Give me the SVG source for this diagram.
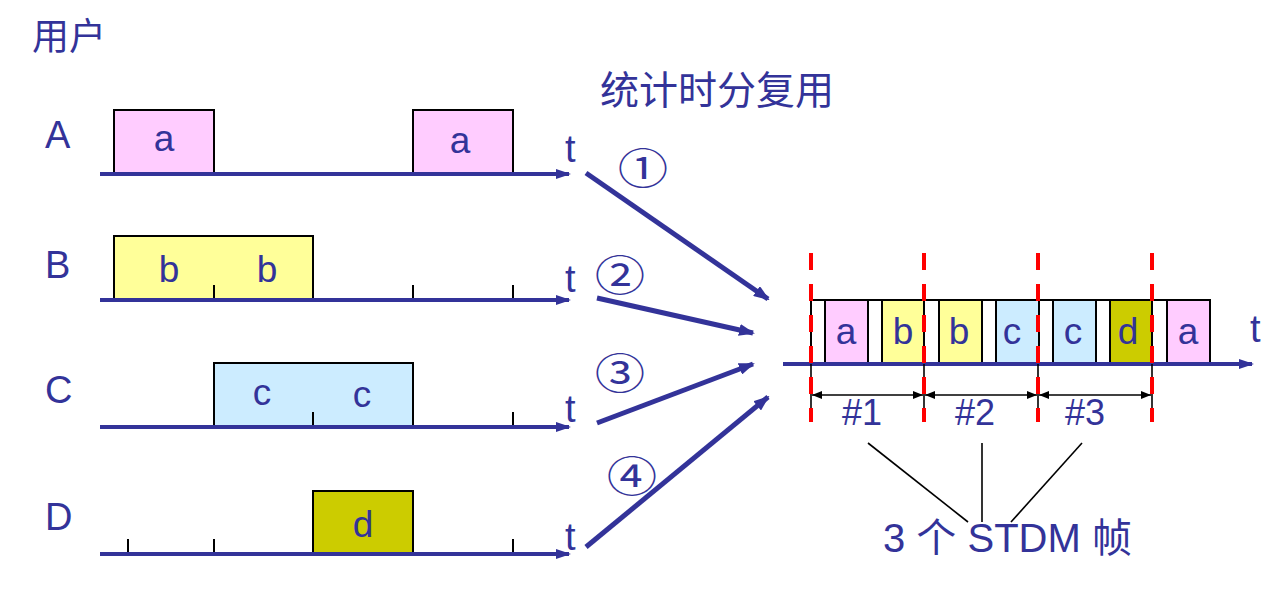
<svg xmlns="http://www.w3.org/2000/svg" width="1288" height="598" viewBox="0 0 1288 598">
<style>
text{font-family:"Liberation Sans","Noto Sans CJK SC",sans-serif;fill:#333399}
.lbl{font-size:38px}
.in{font-size:37px;text-anchor:middle}
.t{font-size:38px}
.cjk{font-family:"Noto Sans CJK SC",sans-serif}
.circ{font-family:"Noto Sans CJK SC",sans-serif;font-size:42px;text-anchor:middle}
.axis{stroke:#333399;stroke-width:4;fill:none}
.tick{stroke:#000;stroke-width:2}
.box{stroke:#000;stroke-width:2}
.pk{fill:#FFCCFF}.yl{fill:#FFFF99}.bl{fill:#CCECFF}.ol{fill:#CCCC00}.wh{fill:#fff}
.big{stroke:#333399;stroke-width:5;fill:none}
.red{stroke:#FF0000;stroke-width:4;stroke-dasharray:17 14}
.blk{stroke:#000;stroke-width:1.6;fill:none}
</style>
<defs>
<marker id="ah" viewBox="0 0 15 10" refX="13" refY="5" markerUnits="userSpaceOnUse" markerWidth="15" markerHeight="10" orient="auto"><path d="M0,0L15,5L0,10z" fill="#333399"/></marker>
<marker id="bh" viewBox="0 0 16 12" refX="14" refY="6" markerUnits="userSpaceOnUse" markerWidth="16" markerHeight="12" orient="auto"><path d="M0,0L16,6L0,12z" fill="#333399"/></marker>
<marker id="kh" viewBox="0 0 10 8" refX="10" refY="4" markerUnits="userSpaceOnUse" markerWidth="10" markerHeight="8" orient="auto-start-reverse"><path d="M0,0L10,4L0,8z" fill="#000"/></marker>
</defs>
<rect width="1288" height="598" fill="#fff"/>
<text x="32" y="50" class="cjk" font-size="37">用户</text>
<text x="600" y="104" class="cjk" font-size="39">统计时分复用</text>

<g id="userA">
<rect x="114" y="110" width="100" height="64" class="box pk"/>
<rect x="413" y="110" width="100" height="64" class="box pk"/>
<line x1="100" y1="174" x2="569" y2="174" class="axis" marker-end="url(#ah)"/>
<text x="45" y="148" class="lbl">A</text>
<text x="164" y="151" class="in">a</text>
<text x="460" y="153" class="in">a</text>
<text x="565" y="162" class="t">t</text>
</g>
<g id="userB">
<rect x="114" y="236" width="199" height="64" class="box yl"/>
<line x1="214" y1="285" x2="214" y2="300" class="tick"/>
<line x1="413" y1="285" x2="413" y2="300" class="tick"/>
<line x1="513" y1="285" x2="513" y2="300" class="tick"/>
<line x1="100" y1="300" x2="569" y2="300" class="axis" marker-end="url(#ah)"/>
<text x="45" y="278" class="lbl">B</text>
<text x="169" y="282" class="in">b</text>
<text x="267" y="282" class="in">b</text>
<text x="565" y="292" class="t">t</text>
</g>
<g id="userC">
<rect x="214" y="363" width="199" height="64" class="box bl"/>
<line x1="313" y1="412" x2="313" y2="427" class="tick"/>
<line x1="513" y1="412" x2="513" y2="427" class="tick"/>
<line x1="100" y1="427" x2="569" y2="427" class="axis" marker-end="url(#ah)"/>
<text x="45" y="403" class="lbl">C</text>
<text x="262" y="405" class="in">c</text>
<text x="362" y="407" class="in">c</text>
<text x="565" y="422" class="t">t</text>
</g>
<g id="userD">
<rect x="313" y="491" width="100" height="63" class="box ol"/>
<line x1="128" y1="539" x2="128" y2="554" class="tick"/>
<line x1="214" y1="539" x2="214" y2="554" class="tick"/>
<line x1="513" y1="539" x2="513" y2="554" class="tick"/>
<line x1="100" y1="554" x2="569" y2="554" class="axis" marker-end="url(#ah)"/>
<text x="45" y="530" class="lbl">D</text>
<text x="363" y="537" class="in">d</text>
<text x="565" y="550" class="t">t</text>
</g>

<g id="connectors">
<line x1="586" y1="173" x2="768" y2="299" class="big" marker-end="url(#bh)"/>
<line x1="597" y1="298" x2="753" y2="333" class="big" marker-end="url(#bh)"/>
<line x1="597" y1="423" x2="753" y2="364" class="big" marker-end="url(#bh)"/>
<line x1="586" y1="547" x2="768" y2="397" class="big" marker-end="url(#bh)"/>
<g transform="translate(643,170) scale(1.2,1)"><text x="0" y="14" class="circ">①</text></g>
<g transform="translate(620,277) scale(1.2,1)"><text x="0" y="14" class="circ">②</text></g>
<g transform="translate(620,375) scale(1.2,1)"><text x="0" y="14" class="circ">③</text></g>
<g transform="translate(632,478) scale(1.2,1)"><text x="0" y="14" class="circ">④</text></g>
</g>

<g id="stdm">
<rect x="811" y="300" width="399" height="64" class="box wh"/>
<rect x="825" y="300" width="43" height="64" class="box pk"/>
<rect x="882" y="300" width="42" height="64" class="box yl"/>
<rect x="939" y="300" width="43" height="64" class="box yl"/>
<rect x="996" y="300" width="43" height="64" class="box bl"/>
<rect x="1053" y="300" width="43" height="64" class="box bl"/>
<rect x="1110" y="300" width="42" height="64" class="box ol"/>
<rect x="1167" y="300" width="43" height="64" class="box pk"/>
<line x1="783" y1="364" x2="1252" y2="364" class="axis" marker-end="url(#ah)"/>
<text x="846" y="344" class="in">a</text>
<text x="903" y="344" class="in">b</text>
<text x="959" y="344" class="in">b</text>
<text x="1012" y="344" class="in">c</text>
<text x="1073" y="344" class="in">c</text>
<text x="1128" y="344" class="in">d</text>
<text x="1188" y="344" class="in">a</text>
<text x="1250" y="342" class="t">t</text>
</g>

<g id="frames">
<line x1="811" y1="364" x2="811" y2="420" class="blk"/>
<line x1="924" y1="364" x2="924" y2="420" class="blk"/>
<line x1="1038" y1="364" x2="1038" y2="420" class="blk"/>
<line x1="1152" y1="364" x2="1152" y2="420" class="blk"/>
<line x1="812" y1="395" x2="923" y2="395" class="blk" marker-start="url(#kh)" marker-end="url(#kh)"/>
<line x1="925" y1="395" x2="1037" y2="395" class="blk" marker-start="url(#kh)" marker-end="url(#kh)"/>
<line x1="1039" y1="395" x2="1151" y2="395" class="blk" marker-start="url(#kh)" marker-end="url(#kh)"/>
<line x1="811" y1="253" x2="811" y2="422" class="red"/>
<line x1="924" y1="253" x2="924" y2="422" class="red"/>
<line x1="1038" y1="253" x2="1038" y2="422" class="red"/>
<line x1="1152" y1="253" x2="1152" y2="422" class="red"/>
<text x="862" y="425" font-size="36" text-anchor="middle">#1</text>
<text x="975" y="425" font-size="36" text-anchor="middle">#2</text>
<text x="1085" y="425" font-size="36" text-anchor="middle">#3</text>
</g>

<g id="label">
<line x1="868" y1="443" x2="968" y2="522" class="blk"/>
<line x1="982" y1="443" x2="982" y2="522" class="blk"/>
<line x1="1082" y1="443" x2="1011" y2="522" class="blk"/>
<text x="883" y="552" font-size="40">3 个 STDM 帧</text>
</g>
</svg>
